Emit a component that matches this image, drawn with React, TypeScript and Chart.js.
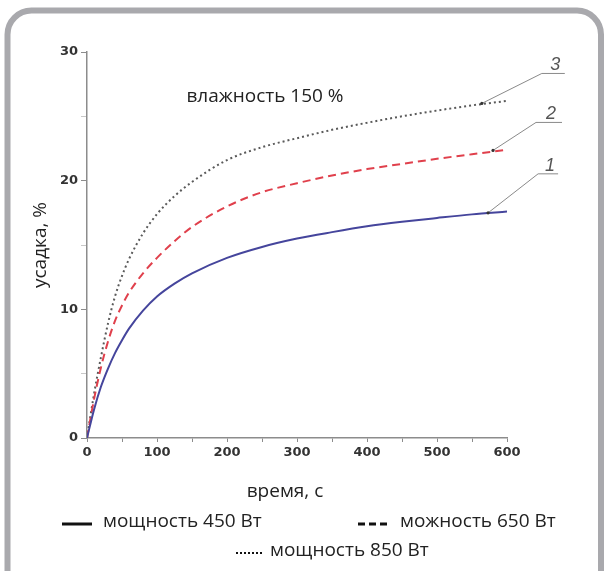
import React, { useEffect, useRef } from "react";
import { Chart, registerables } from "chart.js";

Chart.register(...registerables);

const times = [0, 10, 20, 30, 40, 50, 60, 80, 100, 125, 150, 200, 250, 300, 350, 400, 450, 500, 550, 600];
const power450 = [0, 2.2, 4.0, 5.4, 6.6, 7.6, 8.5, 9.9, 11.0, 12.0, 12.8, 14.0, 14.85, 15.5, 16.0, 16.45, 16.8, 17.1, 17.38, 17.6];
const power650 = [0, 3.0, 5.5, 7.5, 9.1, 10.3, 11.3, 12.8, 14.0, 15.3, 16.4, 18.0, 19.1, 19.8, 20.4, 20.9, 21.3, 21.7, 22.05, 22.4];
const power850 = [0, 3.4, 6.3, 8.9, 11.0, 12.6, 13.9, 15.9, 17.4, 18.8, 19.9, 21.6, 22.6, 23.3, 23.95, 24.5, 25.0, 25.45, 25.85, 26.2];

const seriesLabels = ["мощность 450 Вт", "можность 650 Вт", "мощность 850 Вт"];
const curveNumbers = ["1", "2", "3"];
const leaderAtTime = [573, 580, 564];
const leaderAtValue = [17.5, 22.35, 26.0];
const xTitle = "время, с";
const yTitle = "усадка, %";
const noteText = "влажность 150 %";
const noteAt = [142, 26.5];

const TEXT_FONT = "'Open Sans', 'Noto Sans', sans-serif";

export default function App() {
  const ref = useRef<HTMLCanvasElement | null>(null);

  useEffect(() => {
    document.body.style.margin = "0";
    const canvas = ref.current;
    if (!canvas) return;

    const decor = {
      id: "decor",
      beforeDraw(chart: any) {
        const ctx = chart.ctx;
        ctx.save();
        ctx.fillStyle = "#ffffff";
        ctx.fillRect(0, 0, chart.width, chart.height);
        ctx.strokeStyle = "#a9a9ad";
        ctx.lineWidth = 6;
        const x0 = 7.5, y0 = 10.5, x1 = 601, y1 = 640, r = 24;
        ctx.beginPath();
        ctx.moveTo(x0 + r, y0);
        ctx.lineTo(x1 - r, y0);
        ctx.arcTo(x1, y0, x1, y0 + r, r);
        ctx.lineTo(x1, y1);
        ctx.lineTo(x0, y1);
        ctx.lineTo(x0, y0 + r);
        ctx.arcTo(x0, y0, x0 + r, y0, r);
        ctx.closePath();
        ctx.stroke();
        ctx.restore();
      },
      afterDraw(chart: any) {
        const ctx = chart.ctx;
        const xs = chart.scales.x;
        const ys = chart.scales.y;
        ctx.save();
        ctx.fillStyle = "#222";
        ctx.font = `19px ${TEXT_FONT}`;
        ctx.textAlign = "left";
        ctx.textBaseline = "middle";
        ctx.fillText(noteText, xs.getPixelForValue(noteAt[0]), ys.getPixelForValue(noteAt[1]));

        ctx.textAlign = "center";
        ctx.fillText(xTitle, 285, 492);
        ctx.save();
        ctx.translate(41, 245);
        ctx.rotate(-Math.PI / 2);
        ctx.fillText(yTitle, 0, 0);
        ctx.restore();

        const offs = [[50, -39, 20], [43, -28, 26], [60, -30, 23]];
        for (let i = 0; i < 3; i++) {
          const px = xs.getPixelForValue(leaderAtTime[i]);
          const py = ys.getPixelForValue(leaderAtValue[i]);
          const [dx, dy, hl] = offs[i];
          ctx.strokeStyle = "#8a8a8a";
          ctx.lineWidth = 1;
          ctx.setLineDash([]);
          ctx.beginPath();
          ctx.moveTo(px, py);
          ctx.lineTo(px + dx, py + dy);
          ctx.lineTo(px + dx + hl, py + dy);
          ctx.stroke();
          ctx.fillStyle = "#333";
          ctx.beginPath();
          ctx.arc(px, py, 1.6, 0, Math.PI * 2);
          ctx.fill();
          ctx.fillStyle = "#555";
          ctx.font = `italic 18px 'Liberation Sans', sans-serif`;
          ctx.textAlign = "center";
          ctx.textBaseline = "alphabetic";
          ctx.fillText(curveNumbers[i], px + dx + hl / 2 + 2, py + dy - 3);
        }

        ctx.font = `19px ${TEXT_FONT}`;
        ctx.textBaseline = "middle";
        ctx.textAlign = "left";
        ctx.fillStyle = "#222";
        ctx.strokeStyle = "#111";
        ctx.lineWidth = 3;
        ctx.setLineDash([]);
        ctx.beginPath();
        ctx.moveTo(62, 524);
        ctx.lineTo(92, 524);
        ctx.stroke();
        ctx.fillText(seriesLabels[0], 103, 522);

        ctx.lineWidth = 3;
        ctx.setLineDash([7, 4]);
        ctx.beginPath();
        ctx.moveTo(358, 524);
        ctx.lineTo(389, 524);
        ctx.stroke();
        ctx.setLineDash([]);
        ctx.fillText(seriesLabels[1], 400, 522);

        ctx.lineWidth = 2;
        ctx.setLineDash([2, 2]);
        ctx.beginPath();
        ctx.moveTo(236, 553);
        ctx.lineTo(264, 553);
        ctx.stroke();
        ctx.setLineDash([]);
        ctx.fillText(seriesLabels[2], 270, 551);
        ctx.restore();
      },
    };

    const tickFont = { family: "'DejaVu Sans', sans-serif", size: 13, weight: "bold" as const };

    const chart = new Chart(canvas, {
      type: "line",
      data: {
        labels: times,
        datasets: [
          {
            label: seriesLabels[0],
            data: times.map((t, i) => ({ x: t, y: power450[i] })),
            borderColor: "#45459c",
            borderWidth: 2,
            pointRadius: 0,
            cubicInterpolationMode: "monotone",
            fill: false,
          },
          {
            label: seriesLabels[1],
            data: times.map((t, i) => ({ x: t, y: power650[i] })),
            borderColor: "#e0404c",
            borderWidth: 2,
            borderDash: [8, 5],
            pointRadius: 0,
            cubicInterpolationMode: "monotone",
            fill: false,
          },
          {
            label: seriesLabels[2],
            data: times.map((t, i) => ({ x: t, y: power850[i] })),
            borderColor: "#5a5a5a",
            borderWidth: 2,
            borderDash: [2, 3],
            pointRadius: 0,
            cubicInterpolationMode: "monotone",
            fill: false,
          },
        ],
      },
      options: {
        animation: false,
        responsive: false,
        devicePixelRatio: 1,
        layout: { padding: { left: 0, top: 52, right: 99, bottom: 0 } },
        plugins: { legend: { display: false }, tooltip: { enabled: false } },
        scales: {
          x: {
            type: "linear",
            min: 0,
            max: 600,
            afterFit: (s: any) => { s.height = 133; },
            border: { color: "#8c8c8c", width: 1.5 },
            grid: { drawOnChartArea: false, tickLength: 4, color: "#8c8c8c" },
            ticks: {
              stepSize: 50,
              padding: 3,
              color: "#333",
              font: tickFont,
              maxRotation: 0,
              autoSkip: false,
              callback: (v: any) => (Number(v) % 100 === 0 ? String(v) : ""),
            },
          },
          y: {
            type: "linear",
            min: 0,
            max: 30,
            afterFit: (s: any) => { s.width = 87; },
            border: { color: "#8c8c8c", width: 1.5 },
            grid: {
              drawOnChartArea: false,
              tickLength: 6,
              color: (c: any) => (c.tick && c.tick.value % 10 === 0 ? "#8c8c8c" : "#c8c8c8"),
            },
            ticks: {
              stepSize: 5,
              padding: 3,
              color: "#333",
              font: tickFont,
              autoSkip: false,
              callback: (v: any) => (Number(v) % 10 === 0 ? String(v) : ""),
            },
          },
        },
      },
      plugins: [decor],
    });

    return () => chart.destroy();
  }, []);

  return (
    <div style={{ width: 606, height: 571, position: "relative" }}>
      <canvas ref={ref} width={606} height={571} style={{ display: "block" }} />
    </div>
  );
}
